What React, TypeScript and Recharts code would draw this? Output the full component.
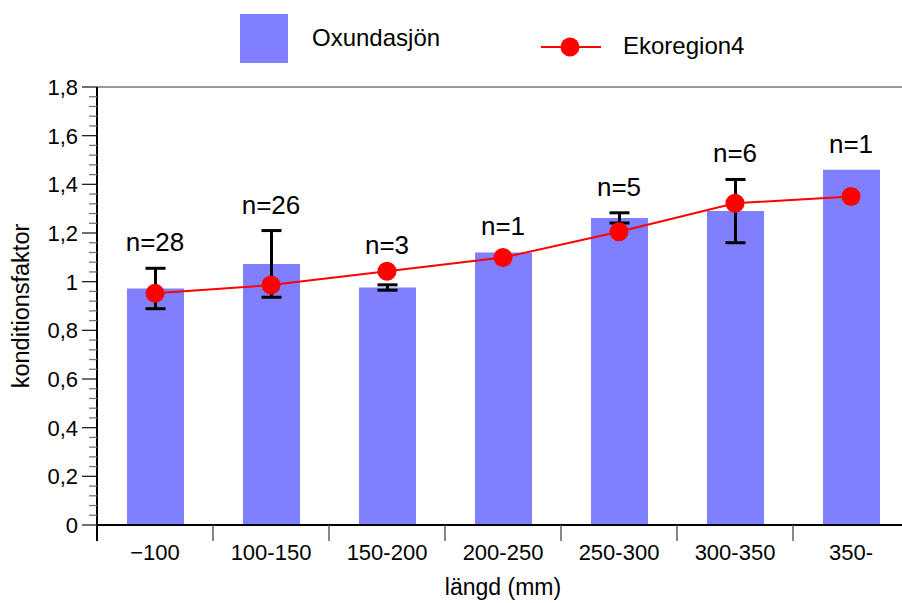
import { ComposedChart, Bar, Line, XAxis, YAxis, ErrorBar, LabelList, ReferenceLine } from 'recharts';

const categories = ['\u2212100', '100-150', '150-200', '200-250', '250-300', '300-350', '350-'];
const oxundasjon = [0.972, 1.073, 0.976, 1.12, 1.262, 1.29, 1.46];
const oxundasjonErr = [0.083, 0.137, 0.011, 0, 0.021, 0.13, 0];
const ekoregion4 = [0.952, 0.986, 1.043, 1.099, 1.205, 1.322, 1.35];
const counts = ['n=28', 'n=26', 'n=3', 'n=1', 'n=5', 'n=6', 'n=1'];
const majorTicks = [0, 0.2, 0.4, 0.6, 0.8, 1, 1.2, 1.4, 1.6, 1.8];

const CHART_W = 912;
const CHART_H = 603;
const Y_AXIS_W = 97;
const MARGIN = { top: 87, right: 3, left: 0, bottom: 0 };
const BAND = (CHART_W - MARGIN.left - MARGIN.right - Y_AXIS_W) / categories.length;
const FONT = '"Liberation Sans", Arial, Helvetica, sans-serif';

// 4 minor ticks between each pair of major ticks
const allTicks: number[] = [];
majorTicks.forEach((t, i) => {
  allTicks.push(t);
  if (i < majorTicks.length - 1) {
    for (let k = 1; k < 5; k++) allTicks.push(+(t + k * 0.04).toFixed(2));
  }
});

const data = categories.map((name, i) => ({
  name,
  oxundasjon: oxundasjon[i],
  err: oxundasjonErr[i],
  eko: ekoregion4[i],
  n: counts[i],
  labelTop: Math.max(oxundasjon[i] + oxundasjonErr[i], ekoregion4[i]),
}));

const isMajor = (v: number) => majorTicks.some((t) => Math.abs(t - v) < 1e-6);

const YTick = (props: any) => {
  const { x, y, payload } = props;
  const major = isMajor(payload.value);
  return (
    <g>
      <line x1={x} x2={x - (major ? 15 : 8)} y1={y} y2={y} stroke={major ? '#222' : '#777'} strokeWidth={1.3} />
      {major && (
        <text x={x - 19} y={y} dy="0.36em" textAnchor="end" fontSize={22} fill="#000" fontFamily={FONT}>
          {String(payload.value).replace('.', ',')}
        </text>
      )}
    </g>
  );
};

const XTick = (props: any) => {
  const { x, y, payload, index } = props;
  const bx = x - BAND / 2;
  return (
    <g>
      <line x1={bx} x2={bx} y1={y} y2={y + 16} stroke={index === 0 ? '#000' : '#555'} strokeWidth={index === 0 ? 2 : 1.4} />
      <text x={x} y={y + 35} textAnchor="middle" fontSize={22} fill="#000" fontFamily={FONT}>
        {payload.value}
      </text>
    </g>
  );
};

export default function App() {
  return (
    <div
      style={{
        position: 'fixed',
        left: 0,
        top: 0,
        width: 902,
        height: 603,
        overflow: 'hidden',
        background: '#fff',
        fontFamily: FONT,
        color: '#000',
      }}
    >
      {/* legend */}
      <div style={{ position: 'absolute', left: 240, top: 14, width: 48, height: 49, background: '#8080ff' }} />
      <div style={{ position: 'absolute', left: 312, top: 23, height: 30, lineHeight: '30px', fontSize: 24 }}>Oxundasjön</div>
      <svg style={{ position: 'absolute', left: 538, top: 35 }} width={66} height={24}>
        <line x1={3} x2={63} y1={12} y2={12} stroke="#ff0000" strokeWidth={2} />
        <circle cx={32} cy={12} r={9.5} fill="#ff0000" />
      </svg>
      <div style={{ position: 'absolute', left: 623, top: 31, height: 30, lineHeight: '30px', fontSize: 24 }}>Ekoregion4</div>

      <ComposedChart width={CHART_W} height={CHART_H} data={data} margin={MARGIN}>
        <ReferenceLine y={1.8} stroke="#777" strokeWidth={1.5} />
        <XAxis
          dataKey="name"
          height={78}
          tickSize={0}
          tickMargin={0}
          interval={0}
          tick={<XTick />}
          axisLine={{ stroke: '#000', strokeWidth: 2 }}
          tickLine={false}
          label={{ value: 'längd (mm)', position: 'insideBottom', offset: 8, fontSize: 23, fill: '#000' }}
        />
        <YAxis
          width={Y_AXIS_W}
          domain={[0, 1.8]}
          ticks={allTicks}
          interval={0}
          tickSize={0}
          tickMargin={0}
          tick={<YTick />}
          tickLine={false}
          axisLine={{ stroke: '#000', strokeWidth: 2 }}
          label={{
            value: 'konditionsfaktor',
            angle: -90,
            position: 'insideLeft',
            offset: 21,
            fontSize: 23.5,
            fill: '#000',
            style: { textAnchor: 'middle' },
          }}
        />
        <Bar dataKey="oxundasjon" fill="#8080ff" barSize={57} isAnimationActive={false}>
          <ErrorBar dataKey="err" width={10} strokeWidth={3} stroke="#000" />
        </Bar>
        <Line
          dataKey="eko"
          stroke="#ff0000"
          strokeWidth={2}
          dot={{ r: 9.5, fill: '#ff0000', stroke: '#ff0000', strokeWidth: 0 }}
          activeDot={false}
          isAnimationActive={false}
        />
        <Line dataKey="labelTop" stroke="none" dot={false} activeDot={false} isAnimationActive={false}>
          <LabelList dataKey="n" position="top" offset={17} fontSize={26} fill="#000" />
        </Line>
      </ComposedChart>
    </div>
  );
}
